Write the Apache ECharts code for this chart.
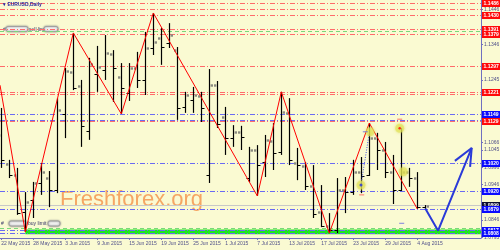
<!DOCTYPE html>
<html><head><meta charset="utf-8">
<script src="https://cdn.jsdelivr.net/npm/echarts@6/dist/echarts.min.js"></script>
<style>html,body{margin:0;padding:0;background:#fafad2}#c{width:500px;height:250px}</style>
</head><body><div id="c"></div><script>
// ---- data ----
const dates = ['22 May 2015','25 May 2015','26 May 2015','27 May 2015','28 May 2015','29 May 2015',
 '1 Jun 2015','2 Jun 2015','3 Jun 2015','4 Jun 2015','5 Jun 2015','8 Jun 2015','9 Jun 2015','10 Jun 2015','11 Jun 2015','12 Jun 2015',
 '15 Jun 2015','16 Jun 2015','17 Jun 2015','18 Jun 2015','19 Jun 2015','22 Jun 2015','23 Jun 2015','24 Jun 2015','25 Jun 2015','26 Jun 2015',
 '29 Jun 2015','30 Jun 2015','1 Jul 2015','2 Jul 2015','3 Jul 2015','6 Jul 2015','7 Jul 2015','8 Jul 2015','9 Jul 2015','10 Jul 2015',
 '13 Jul 2015','14 Jul 2015','15 Jul 2015','16 Jul 2015','17 Jul 2015','20 Jul 2015','21 Jul 2015','22 Jul 2015','23 Jul 2015','24 Jul 2015',
 '27 Jul 2015','28 Jul 2015','29 Jul 2015','30 Jul 2015','31 Jul 2015','3 Aug 2015','4 Aug 2015','5 Aug 2015'];
const open = [1.1088,1.1005,1.0974,1.0868,1.0902,1.0951,1.0965,1.0931,1.1148,1.1268,
 1.1228,1.1099,1.1262,1.1273,1.1319,1.1253,1.1208,1.1279,1.1245,1.1336,
 1.1365,1.1350,1.1330,1.1168,1.1188,1.1199,1.0974,1.1231,1.1139,1.1079,
 1.1096,1.0965,1.1045,1.1011,1.1071,1.1040,1.1151,1.1008,1.0999,1.0942,
 1.0868,1.0828,1.0817,1.0931,1.0925,1.0982,1.0974,1.1079,1.1045,1.0982,
 1.0931,1.0982,1.0965,1.0882];
const high = [1.1165,1.1017,1.0994,1.0925,1.0954,1.1008,1.0985,1.1193,1.1279,1.1379,
 1.1245,1.1308,1.1342,1.1373,1.1330,1.1293,1.1293,1.1325,1.1382,1.1436,
 1.1393,1.1407,1.1339,1.1211,1.1225,1.1211,1.1276,1.1242,1.1168,1.1116,
 1.1114,1.1054,1.1059,1.1088,1.1122,1.1211,1.1193,1.1051,1.1011,1.1002,
 1.0945,1.0865,1.0965,1.0968,1.1017,1.1025,1.1122,1.1094,1.1068,1.1031,
 1.1108,1.0994,1.0982,1.0888];
const low = [1.0994,1.0965,1.0860,1.0811,1.0851,1.0917,1.0882,1.0922,1.1079,1.1216,
 1.1054,1.1074,1.1211,1.1245,1.1182,1.1148,1.1185,1.1222,1.1202,1.1316,
 1.1288,1.1336,1.1131,1.1151,1.1151,1.1125,1.0951,1.1108,1.1031,1.1054,
 1.1045,1.0954,1.0914,1.0968,1.0988,1.1031,1.1002,1.0959,1.0931,1.0851,
 1.0825,1.0808,1.0808,1.0865,1.0917,1.0922,1.0971,1.0988,1.0965,1.0891,
 1.0928,1.0940,1.0877,1.0877];
const close = [1.1017,1.0974,1.0865,1.0897,1.0951,1.0982,1.0931,1.1159,1.1270,1.1222,
 1.1114,1.1290,1.1282,1.1322,1.1279,1.1222,1.1279,1.1245,1.1336,1.1353,
 1.1339,1.1373,1.1165,1.1202,1.1202,1.1165,1.1231,1.1119,1.1079,1.1096,
 1.1082,1.1045,1.1002,1.1074,1.1037,1.1153,1.1017,1.1002,1.0942,1.0862,
 1.0828,1.0817,1.0931,1.0925,1.0982,1.0971,1.1079,1.1045,1.0982,1.0931,
 1.0982,1.0965,1.0882,1.0885];
const zigzagX = [-0.16,3,9,15,19,32,35,41,46,52];
const zigzagY = [1.1230,1.0811,1.1379,1.1148,1.1436,1.0914,1.1211,1.0808,1.1122,1.0877];
const arrowX = [53,54.6,58.8];
const arrowY = [1.0878,1.0815,1.1051];
const arrowHeadX = [56.7,58.8,58.6];
const arrowHeadY = [1.1014,1.1051,1.0997];
const circleX = [46.1,49.8,50.25,44.96];
const circleY = [1.1097,1.1107,1.0983,1.0945];
const dottedX = [44.96,46.0];
const dottedY = [1.0945,1.1094];
const redDashX = [45.05,49.8];
const redDashY = [1.0917,1.1133];
const blueDashX = [45.5,50.05];
const blueDashY = [1.1097,1.0836];
const redLevels = [1.1464,1.1446,1.1430,1.1390,1.1377,1.1285,1.1211,1.1205,1.1127];
const redLabels = ['1.1486','','1.1430','1.1391','1.1379','1.1297','1.1221','','1.1129'];
const blueLevels = [1.1147,1.1131,1.1007,1.0928,1.0877,1.0817,1.0808];
const blueLabels = ['1.1149','','1.1020','1.0920','1.0879','1.0817','1.0808'];
const greenLevels = [1.1385,1.0822];
const greenLabels = ['',''];
const bidLevels = [1.0887];
const bidLabels = ['1.0899'];
const bandLow = 1.0805, bandHigh = 1.0818, bandStart = 3;
const priceTicks = [1.0795,1.0846,1.0946,1.0996,1.1045,1.1066,1.1245,1.1346,1.1446];
const dateTicks = [0,4,8,12,16,20,24,28,32,36,40,44,48,52];

// ---- chart ----
const X_MIN = -0.1625, X_MAX = 59.9625;
const FONT = '"Liberation Sans"';
const chart = echarts.init(document.getElementById('c'), null, {renderer:'canvas'});
const zip = (a,b)=>a.map((v,i)=>[v,b[i]]);
const NO_SPLIT = {show:false, lineStyle:{color:'rgba(0,0,0,0)', width:0}};

function levelSeries(values, labels, color, boxColor, dash, z){
  return {type:'custom', z:z, clip:false, silent:true,
    data: values.map((v,i)=>[0, v, i]), encode:{x:0, y:1},
    renderItem: function(params, api){
      const cs = params.coordSys;
      const v = api.value(1), i = api.value(2);
      const y = Math.round(api.coord([0, v])[1]) + 0.5;
      const ch = [{type:'line', shape:{x1:cs.x, y1:y, x2:cs.x+cs.width, y2:y},
        style:{stroke:color, lineWidth:1, lineDash:dash}}];
      const t = labels[i];
      if (t) {
        ch.push({type:'rect', shape:{x:cs.x+cs.width+1, y:Math.round(y)-4, width:19, height:7}, style:{fill:boxColor}});
        ch.push({type:'text', x:cs.x+cs.width+2.5, y:Math.round(y)-0.5,
          style:{text:t, fill:'#ffffff', font:'bold 5px '+FONT, verticalAlign:'middle', align:'left'}});
      }
      return {type:'group', children:ch};
    }};
}

const bars = dates.map((d,i)=>[i, open[i], high[i], low[i], close[i]]);

chart.setOption({
  backgroundColor:'#fafad2',
  animation:false,
  grid:{show:false, left:0, right:19, top:0, bottom:12, outerBoundsMode:'none'},
  xAxis:{type:'value', min:X_MIN, max:X_MAX, splitLine:NO_SPLIT, minorSplitLine:{show:false}, splitArea:{show:false},
    axisLine:{show:true, onZero:false, lineStyle:{color:'#7070c0', width:1}},
    axisTick:{show:true, length:2, customValues:dateTicks, lineStyle:{color:'#7070c0'}},
    axisLabel:{customValues:dateTicks, formatter:v=>dates[Math.round(v)], align:'left', margin:3,
      fontSize:5, fontFamily:'Liberation Sans', color:'#50508a'}},
  yAxis:{type:'value', position:'right', min:1.0794, max:1.1473, splitLine:NO_SPLIT, minorSplitLine:{show:false}, splitArea:{show:false},
    axisLine:{show:true, onZero:false, lineStyle:{color:'#7070c0', width:1}},
    axisTick:{show:true, length:2, customValues:priceTicks, lineStyle:{color:'#7070c0'}},
    axisLabel:{customValues:priceTicks, formatter:v=>v.toFixed(4), margin:3,
      fontSize:5, fontFamily:'Liberation Sans', color:'#50508a'}},
  series:[
    {type:'line', data:[], z:1, silent:true,
     markArea:{silent:true, itemStyle:{color:'#1ee61e'}, data:[[{xAxis:bandStart, yAxis:bandHigh},{xAxis:X_MAX, yAxis:bandLow}]]}},
    levelSeries(greenLevels, greenLabels, '#7ad87a', '#00aa00', [4,3], 2),
    levelSeries(bidLevels, bidLabels, '#c8c8c8', '#0c0c30', [], 2),
    levelSeries(redLevels, redLabels, '#ff6a6a', '#ff0a0a', [5,2,1,2], 2),
    levelSeries(blueLevels, blueLabels, '#6a6af2', '#0a0aff', [5,2,1,2], 2),
    {type:'custom', z:3, clip:true, data:bars, encode:{x:0, y:[1,2,3,4]},
     renderItem:function(params, api){
       const x = api.value(0);
       const pO = api.coord([x, api.value(1)]);
       const pH = api.coord([x, api.value(2)]);
       const pL = api.coord([x, api.value(3)]);
       const pC = api.coord([x, api.value(4)]);
       const cx = Math.round(pH[0]) + 0.5;
       const ch = [{type:'line', shape:{x1:cx, y1:pH[1], x2:cx, y2:pL[1]}, style:{stroke:'#000', lineWidth:1.2}}];
       const openHigher = pO[1] < pC[1];
       const yo = Math.round(pO[1]) + 0.5, yc = Math.round(pC[1]) + 0.5;
       if (openHigher) {
         ch.push({type:'rect', shape:{x:cx-3.5, y:yo-1.2, width:2.4, height:2.4}, style:{fill:'#8a8a80'}});
         ch.push({type:'line', shape:{x1:cx, y1:yc, x2:cx+3, y2:yc}, style:{stroke:'#000', lineWidth:1}});
       } else {
         ch.push({type:'line', shape:{x1:cx-3, y1:yo, x2:cx, y2:yo}, style:{stroke:'#000', lineWidth:1}});
         ch.push({type:'rect', shape:{x:cx+1.1, y:yc-1.2, width:2.4, height:2.4}, style:{fill:'#8a8a80'}});
       }
       return {type:'group', children:ch};
     }},
    {type:'line', z:4, data:zip(zigzagX, zigzagY), symbol:'none', clip:true, lineStyle:{color:'#ff0000', width:1}},
    {type:'line', z:4, data:zip(dottedX, dottedY), symbol:'none', lineStyle:{color:'#4050e0', width:1, type:[1,1.5]}},
    {type:'scatter', z:5, data:zip(circleX, circleY), symbolSize:9,
     itemStyle:{color:'rgba(228,228,90,0.78)', shadowBlur:3, shadowColor:'rgba(210,210,60,0.9)'}},
    {type:'scatter', z:6, data:[[circleX[1],circleY[1]]], symbolSize:2.5, itemStyle:{color:'#ff0000'}},
    {type:'scatter', z:6, data:[[circleX[3],circleY[3]]], symbolSize:3, itemStyle:{color:'#2030e0'}},
    {type:'scatter', z:5, data:zip(redDashX, redDashY), symbol:'rect', symbolSize:[5,1], itemStyle:{color:'#ff5050'}},
    {type:'scatter', z:5, data:zip(blueDashX, blueDashY), symbol:'rect', symbolSize:[5,1], itemStyle:{color:'#6060e0'}},
    {type:'line', z:6, data:zip(arrowX, arrowY), symbol:'none', lineStyle:{color:'#2a3ad8', width:2}},
    {type:'line', z:6, data:zip(arrowHeadX, arrowHeadY), symbol:'none', lineStyle:{color:'#2a3ad8', width:2}}
  ],
  graphic:[
    {type:'text', left:60, top:189, z:2, style:{text:'Freshforex.org', font:'22px "Liberation Sans"', fill:'rgba(244,150,80,0.85)'}},
    {type:'text', left:3, top:2, z:10, style:{text:'\u25BE EURUSD,Daily', font:'bold 5px "Liberation Sans"', fill:'#2a2aa0'}},
    {type:'group', left:3, top:26, z:10, children:[
      {type:'text', x:2, y:0.5, style:{text:'#', font:'5px "Liberation Sans"', fill:'#333366'}},
      {type:'rect', shape:{x:5, y:0, width:22, height:5, r:2}, style:{fill:'#f4f4f4', stroke:'#a0a0a0', shadowBlur:2, shadowColor:'#888'}},
      {type:'text', x:28, y:0.5, style:{text:'sell limit', font:'5px "Liberation Sans"', fill:'#333366'}},
      {type:'rect', shape:{x:43, y:0, width:14, height:5, r:2}, style:{fill:'#f4f4f4', stroke:'#a0a0a0', shadowBlur:2, shadowColor:'#888'}}
    ]},
    {type:'group', left:1, top:220.5, z:10, children:[
      {type:'text', x:1, y:0.5, style:{text:'#', font:'5px "Liberation Sans"', fill:'#333366'}},
      {type:'rect', shape:{x:9, y:0, width:17, height:5, r:2}, style:{fill:'#f4f4f4', stroke:'#a0a0a0', shadowBlur:2, shadowColor:'#888'}},
      {type:'text', x:28, y:0.5, style:{text:'buy limit', font:'5px "Liberation Sans"', fill:'#333366'}},
      {type:'rect', shape:{x:48, y:0, width:12, height:5, r:2}, style:{fill:'#f4f4f4', stroke:'#a0a0a0', shadowBlur:2, shadowColor:'#888'}}
    ]}
  ]
});
</script></body></html>
